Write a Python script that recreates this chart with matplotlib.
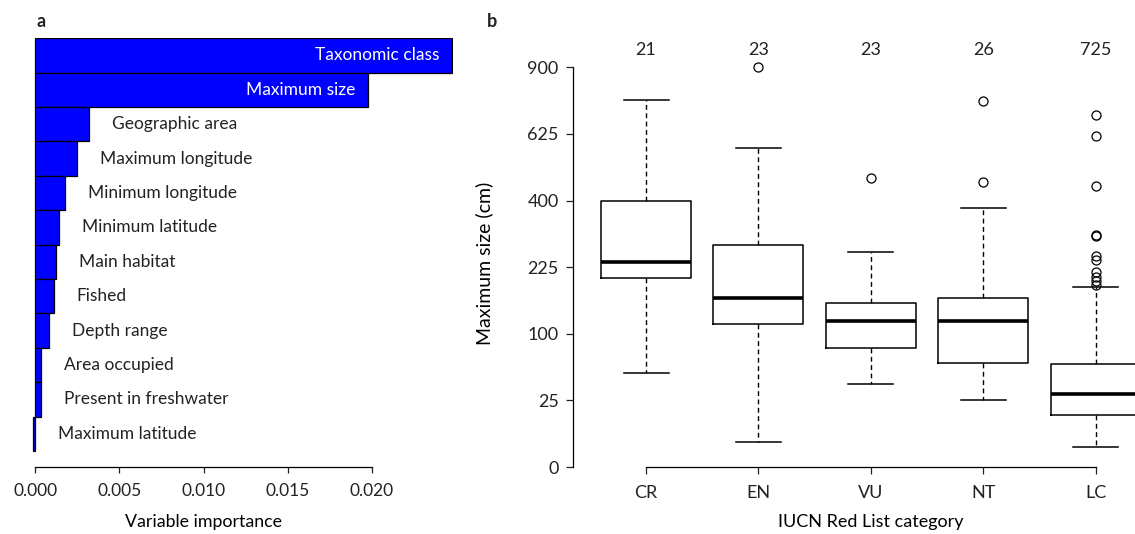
import numpy as np
import matplotlib
matplotlib.use("Agg")
import matplotlib.pyplot as plt
from matplotlib.transforms import blended_transform_factory

plt.rcParams["font.family"] = ["Lato", "DejaVu Sans"]
plt.rcParams["font.size"] = 12
plt.rcParams["text.color"] = "#222222"
plt.rcParams["xtick.color"] = "#222222"
plt.rcParams["ytick.color"] = "#222222"

# ---- panel a: variable importance ----
variables = ["Taxonomic class", "Maximum size", "Geographic area", "Maximum longitude",
             "Minimum longitude", "Minimum latitude", "Main habitat", "Fished",
             "Depth range", "Area occupied", "Present in freshwater", "Maximum latitude"]
importance = [0.02474, 0.01975, 0.00317, 0.00246, 0.00176, 0.00139,
              0.00123, 0.00109, 0.00083, 0.00036, 0.00034, -0.00014]
imp_ticks = [0.000, 0.005, 0.010, 0.015, 0.020]

# ---- panel b: maximum size by IUCN category ----
categories = ["CR", "EN", "VU", "NT", "LC"]
counts = [21, 23, 23, 26, 725]
whisker_low = [50, 3.6, 39, 25, 2.3]
q1 = [201, 115, 80, 61, 15]
median = [236, 160, 120, 120, 30]
q3 = [400, 278, 152, 161, 60]
whisker_high = [759, 574, 260, 379, 182]
outliers = [[], [900], [470], [756, 457],
            [700, 616, 444, 304, 300, 250, 241, 215, 204, 194, 186]]
size_ticks = [0, 25, 100, 225, 400, 625, 900]

fig = plt.figure(figsize=(11.35, 5.34), dpi=100)
W, H = 1135, 534

# panel a
ax1 = fig.add_axes([30.25 / W, 1 - 467.3 / H, 422.55 / W, (467.3 - 38.3) / H])
ypos = np.arange(len(variables))
ax1.barh(ypos, importance, height=1.0, color="#0000ff", edgecolor="black", linewidth=0.9)
for i, (name, v) in enumerate(zip(variables, importance)):
    if i < 2:
        ax1.annotate(name, xy=(v, i), xytext=(-9, 0), textcoords="offset points",
                     ha="right", va="center", color="white", fontsize=12.5)
    else:
        ax1.annotate(name, xy=(max(v, 0), i), xytext=(16.5, 0), textcoords="offset points",
                     ha="left", va="center", fontsize=12.5)
ax1.set_xlim(-0.0003, 0.0248)
ax1.set_ylim(11.974, -0.5)
ax1.set_yticks([])
ax1.set_xticks(imp_ticks)
ax1.set_xticklabels([f"{t:.3f}" for t in imp_ticks])
for s in ["top", "right", "left"]:
    ax1.spines[s].set_visible(False)
ax1.spines["bottom"].set_bounds(0, 0.02)
ax1.spines["bottom"].set_linewidth(0.9)
ax1.tick_params(axis="x", length=4.5, width=0.9, pad=7, labelsize=12.5)
ax1.set_xlabel("Variable importance", fontsize=12.8)
ax1.xaxis.set_label_coords((203.5 - 30.25) / 422.55, (467.3 - 522.5) / (467.3 - 38.3))
ax1.xaxis.label.set_va("center")

# panel b
ax2 = fig.add_axes([573.3 / W, 1 - 467 / H, (1163.2 - 573.3) / W, (467 - 60.7) / H])
stats = []
for i in range(len(categories)):
    stats.append(dict(med=median[i], q1=q1[i], q3=q3[i],
                      whislo=whisker_low[i], whishi=whisker_high[i],
                      fliers=outliers[i], label=categories[i]))
ax2.set_yscale("function", functions=(lambda v: np.sqrt(np.clip(v, 0, None)),
                                      lambda v: np.square(v)))
ax2.bxp(stats, positions=range(1, 6), widths=0.8, capwidths=0.4,
        boxprops=dict(color="black", linewidth=1.1),
        medianprops=dict(color="black", linewidth=2.6),
        whiskerprops=dict(color="black", linewidth=1.0, linestyle=(0, (3.5, 2.5))),
        capprops=dict(color="black", linewidth=1.1),
        flierprops=dict(marker="o", markerfacecolor="none", markeredgecolor="black",
                        markersize=6.5, markeredgewidth=0.9))
ax2.set_xlim(0.353, 5.6)
ax2.set_ylim(0, 930.25)
ax2.set_yticks(size_ticks)
ax2.set_yticklabels([str(t) for t in size_ticks])
ax2.set_xticks(range(1, 6))
ax2.set_xticklabels(categories)
for s in ["top", "right"]:
    ax2.spines[s].set_visible(False)
ax2.spines["left"].set_bounds(0, 900)
ax2.spines["bottom"].set_bounds(1, 5)
ax2.spines["left"].set_linewidth(0.9)
ax2.spines["bottom"].set_linewidth(0.9)
ax2.tick_params(axis="both", length=5, width=0.9, labelsize=13)
ax2.tick_params(axis="y", pad=5.5)
ax2.tick_params(axis="x", pad=8)
ax2.set_ylabel("Maximum size (cm)", fontsize=14)
ax2.yaxis.set_label_coords((493.3 - 573.3) / (1163.2 - 573.3), 0.5)
ax2.set_xlabel("IUCN Red List category", fontsize=13)
ax2.xaxis.set_label_coords((870.8 - 573.3) / (1163.2 - 573.3), (467 - 522.5) / (467 - 60.7))
ax2.xaxis.label.set_va("center")

trans = blended_transform_factory(ax2.transData, fig.transFigure)
for i, n in enumerate(counts):
    ax2.text(i + 1, 1 - 50 / H, str(n), transform=trans, ha="center", va="center", fontsize=13)

fig.text(40.7 / W, 1 - 21.5 / H, "a", fontsize=13, fontweight="bold", ha="center", va="center")
fig.text(492 / W, 1 - 21.5 / H, "b", fontsize=13, fontweight="bold", ha="center", va="center")

fig.savefig("out.png", dpi=100)
